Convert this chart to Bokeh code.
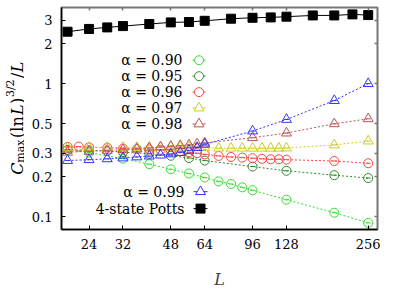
import math
from bokeh.plotting import figure
from bokeh.layouts import row
from bokeh.models import FixedTicker, CustomJSTickFormatter, LogAxis, Label, Range1d
from bokeh.embed import file_html
from bokeh.resources import INLINE

# ---------------- data ----------------
L_ticks = [24, 32, 48, 64, 96, 128, 256]
C_ticks = [0.1, 0.2, 0.3, 0.5, 1, 2, 3]

L_potts = [20, 24, 28, 32, 40, 48, 56, 64, 80, 96, 112, 128, 160, 192, 224, 256]
C_potts = [2.46, 2.58, 2.65, 2.71, 2.81, 2.89, 2.91, 2.97, 3.08, 3.13, 3.15, 3.19, 3.26, 3.26, 3.32, 3.28]

L_a090 = [20, 24, 32, 40, 48, 56, 64, 72, 80, 88, 96, 128, 192, 256]
C_a090 = [0.318, 0.303, 0.273, 0.248, 0.227, 0.211, 0.197, 0.184, 0.176, 0.166, 0.158, 0.134, 0.107, 0.0897]

L_a095 = [20, 24, 28, 32, 40, 48, 56, 64, 96, 128, 192, 256]
C_a095 = [0.318, 0.315, 0.311, 0.306, 0.297, 0.287, 0.276, 0.264, 0.238, 0.221, 0.205, 0.195]

L_a096 = [20, 22, 24, 28, 32, 36, 40, 44, 48, 52, 56, 60, 64, 72, 80, 88, 96, 104, 112, 120, 128, 192, 256]
C_a096 = [0.335, 0.336, 0.332, 0.330, 0.325, 0.322, 0.320, 0.318, 0.315, 0.310, 0.305, 0.300, 0.294,
          0.286, 0.281, 0.278, 0.275, 0.272, 0.270, 0.270, 0.268, 0.262, 0.252]

L_a097 = [20, 24, 28, 32, 36, 40, 44, 48, 52, 56, 60, 64, 72, 80, 88, 96, 104, 112, 120, 128, 192, 256]
C_a097 = [0.330, 0.330, 0.331, 0.331, 0.331, 0.332, 0.333, 0.333, 0.333, 0.332, 0.331, 0.330,
          0.327, 0.327, 0.327, 0.327, 0.327, 0.327, 0.327, 0.328, 0.346, 0.370]

L_a098 = [20, 24, 28, 32, 36, 40, 44, 48, 52, 56, 60, 64, 96, 128, 192, 256]
C_a098 = [0.305, 0.310, 0.315, 0.318, 0.323, 0.328, 0.334, 0.338, 0.342, 0.346, 0.352, 0.358, 0.392, 0.425, 0.499, 0.544]

L_a099 = [20, 24, 28, 32, 36, 40, 44, 48, 52, 56, 60, 64, 96, 128, 192, 256]
C_a099 = [0.264, 0.268, 0.272, 0.276, 0.281, 0.285, 0.290, 0.296, 0.303, 0.315, 0.330, 0.350, 0.440, 0.538, 0.746, 1.00]

series = [
    ("α = 0.90", L_a090, C_a090, "#33dd33", "circle"),
    ("α = 0.95", L_a095, C_a095, "#338833", "circle"),
    ("α = 0.96", L_a096, C_a096, "#ff4444", "circle"),
    ("α = 0.97", L_a097, C_a097, "#cccc22", "triangle"),
    ("α = 0.98", L_a098, C_a098, "#bb5555", "triangle"),
    ("α = 0.99", L_a099, C_a099, "#3333ff", "triangle"),
]

# ---------------- layout ----------------
X0, X1 = 19, 277
Y0, Y1 = 0.08, 3.74
FW, FH = 316, 223
TOP = 7
FONT = "DejaVu Serif"
H = 291          # total height of both panels
LAB_W = 24       # width of the y-label strip


def xs(px):
    return 10 ** (math.log10(X0) + px / FW * (math.log10(X1) - math.log10(X0)))


def ys(py):
    return 10 ** (math.log10(Y0) + py / FH * (math.log10(Y1) - math.log10(Y0)))


p = figure(width=FW + 37 + 22, height=H, x_axis_type="log", y_axis_type="log",
           x_range=(X0, X1), y_range=(Y0, Y1),
           output_backend="svg", toolbar_location=None,
           min_border_left=37, min_border_right=22, min_border_top=TOP, min_border_bottom=H - TOP - FH)
p.xgrid.visible = False
p.ygrid.visible = False
p.outline_line_color = "#777777"
p.outline_line_width = 2
p.background_fill_color = "white"
p.border_fill_color = "white"

fmt = CustomJSTickFormatter(code="return tick.toString();")
for ax, tk in ((p.below[0], L_ticks), (p.left[0], C_ticks)):
    ax.ticker = FixedTicker(ticks=tk)
    ax.formatter = fmt
    ax.major_tick_in = 4
    ax.major_tick_out = 0
    ax.minor_tick_line_color = None
    ax.major_label_standoff = 9
    ax.major_label_text_font = FONT
    ax.major_label_text_font_size = "13px"
    ax.major_label_text_color = "black"
    ax.axis_line_color = "black"
    ax.axis_line_width = 1.5
    ax.major_tick_line_color = "black"

xax = p.below[0]
xax.axis_label = "L"
xax.axis_label_text_font = FONT
xax.axis_label_text_font_style = "italic"
xax.axis_label_text_font_size = "16px"
xax.axis_label_standoff = 18

blank = CustomJSTickFormatter(code="return '';")
for loc, tk in (("above", L_ticks), ("right", C_ticks)):
    ax = LogAxis(ticker=FixedTicker(ticks=tk), formatter=blank, major_tick_in=3, major_tick_out=0,
                 minor_tick_line_color=None, major_label_standoff=0, axis_line_color=None,
                 major_tick_line_color="#777777", major_tick_line_width=1.5)
    p.add_layout(ax, loc)

# ---------------- data marks ----------------
for name, L, C, col, mk in series:
    p.line(L, C, line_color=col, line_dash="2 2", line_width=1)
    p.scatter(L, C, marker=mk, size=9 if mk == "circle" else 10,
              fill_color=None, line_color=col, line_width=1)
    p.scatter(L, C, marker="dash", size=5, line_color=col, line_width=1)

p.line(L_potts, C_potts, line_color="black", line_width=1)
p.scatter(L_potts, C_potts, marker="square", size=9, fill_color="black", line_color="black")

# ---------------- legend (manual, text left of key) ----------------
rows_top = [170, 154, 138, 122, 106]
for (name, L, C, col, mk), py in zip(series[:5], rows_top):
    p.add_layout(Label(x=xs(121), y=ys(py), text=name, text_align="right", text_baseline="middle",
                       text_font=FONT, text_font_size="14px", text_color="black"))
    p.segment(x0=[xs(131)], y0=[ys(py)], x1=[xs(144)], y1=[ys(py)], line_color=col, line_width=1)
    p.scatter([xs(137.5)], [ys(py)], marker=mk, size=9 if mk == "circle" else 10,
              fill_color="white", line_color=col, line_width=1)

name, L, C, col, mk = series[5]
p.add_layout(Label(x=xs(123), y=ys(38), text=name, text_align="right", text_baseline="middle",
                   text_font=FONT, text_font_size="14px", text_color="black"))
p.segment(x0=[xs(132)], y0=[ys(38)], x1=[xs(146)], y1=[ys(38)], line_color=col, line_width=1)
p.scatter([xs(139)], [ys(38)], marker=mk, size=10, fill_color="white", line_color=col, line_width=1)

p.add_layout(Label(x=xs(123), y=ys(21), text="4-state Potts", text_align="right", text_baseline="middle",
                   text_font=FONT, text_font_size="14px", text_color="black"))
p.segment(x0=[xs(132)], y0=[ys(21)], x1=[xs(146)], y1=[ys(21)], line_color="black", line_width=1)
p.scatter([xs(139)], [ys(21)], marker="square", size=9, fill_color="black", line_color="black")

# ---------------- y-axis label strip ----------------
# In a row, Bokeh aligns the frames, so this strip's frame spans the same rows as the plot's frame.
# Its ranges are set so that data coordinates equal page pixels of the 415x291 picture.
PAGE_TOP = 8 + TOP
PAGE_BOT = 8 + TOP + FH
q = figure(width=LAB_W, height=H, x_range=Range1d(8, 8 + LAB_W), y_range=Range1d(PAGE_BOT, PAGE_TOP),
           output_backend="svg", toolbar_location=None,
           x_axis_location=None, y_axis_location=None,
           min_border_left=0, min_border_right=0, min_border_top=0, min_border_bottom=0)
q.grid.visible = False
q.outline_line_color = None
q.border_fill_color = "white"
q.background_fill_color = "white"


def ylab(xr, yr, text, size, italic=False):
    q.add_layout(Label(x=xr, y=yr, text=text, angle=math.pi / 2,
                       text_align="left", text_baseline="alphabetic", text_font=FONT,
                       text_font_style="italic" if italic else "normal",
                       text_font_size=f"{size}px", text_color="black"))


ylab(25, 183, "C", 16, True)
ylab(28, 171, "max", 11)
ylab(25, 146, "(ln", 16)
ylab(25, 123, "L", 16, True)
ylab(25, 112, ")", 16)
ylab(18, 105, "3/2", 11)
ylab(25, 86, "/", 16)
ylab(25, 80, "L", 16, True)

layout = row(q, p)
open("out.html", "w").write(file_html(layout, INLINE))
